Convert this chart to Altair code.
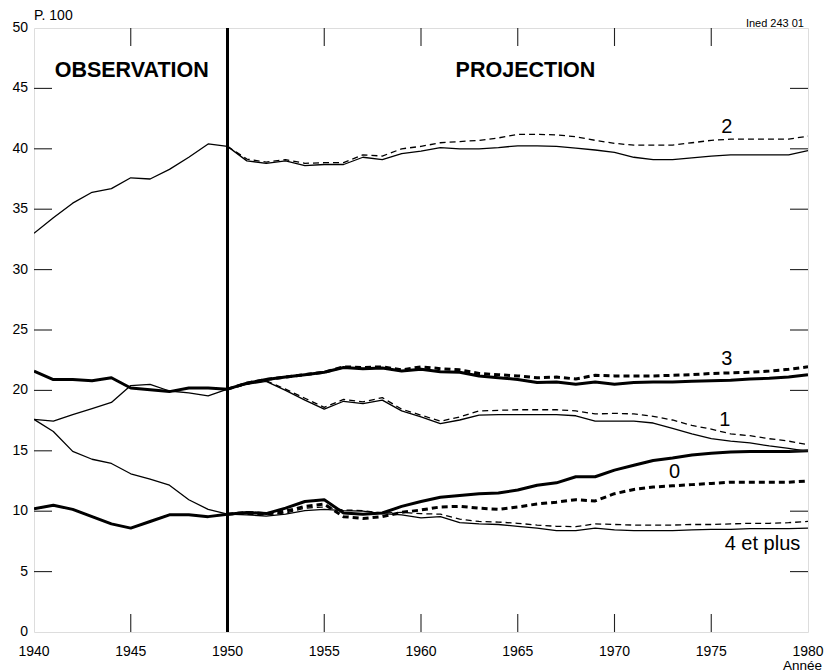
import altair as alt
import pandas as pd

# Years covered: observation 1940-1950, projection 1950-1980
YEARS = list(range(1940, 1981))
PROJ_YEARS = list(range(1950, 1981))

# Share of women by number of children (P. 100) - observed then projected (solid)
solid_2 = [33.0, 34.3, 35.5, 36.4, 36.7, 37.6, 37.5, 38.3, 39.3, 40.4, 40.2,
           39.0, 38.8, 39.0, 38.6, 38.7, 38.7, 39.3, 39.1, 39.6, 39.8,
           40.1, 40.0, 40.0, 40.1, 40.25, 40.25, 40.2, 40.05, 39.9, 39.7,
           39.3, 39.1, 39.1, 39.25, 39.4, 39.5, 39.5, 39.5, 39.5, 39.85]
solid_3 = [21.6, 20.9, 20.9, 20.8, 21.05, 20.2, 20.05, 19.9, 20.2, 20.2, 20.1,
           20.6, 20.9, 21.1, 21.3, 21.5, 21.9, 21.8, 21.85, 21.6, 21.75,
           21.55, 21.5, 21.2, 21.05, 20.9, 20.65, 20.7, 20.5, 20.7, 20.5,
           20.65, 20.7, 20.7, 20.75, 20.8, 20.85, 20.95, 21.0, 21.1, 21.3]
solid_1 = [17.6, 17.45, 18.0, 18.5, 19.0, 20.4, 20.5, 19.95, 19.8, 19.55, 20.1,
           20.5, 20.75, 20.0, 19.2, 18.45, 19.1, 18.9, 19.2, 18.3, 17.8,
           17.25, 17.55, 17.95, 18.0, 18.0, 18.0, 18.0, 17.9, 17.45, 17.45,
           17.45, 17.3, 16.85, 16.4, 16.0, 15.8, 15.65, 15.4, 15.2, 14.95]
solid_0 = [10.2, 10.5, 10.15, 9.55, 8.95, 8.6, 9.15, 9.7, 9.7, 9.55, 9.75,
           9.9, 9.8, 10.25, 10.8, 10.95, 9.85, 9.75, 9.85, 10.4, 10.8,
           11.15, 11.3, 11.45, 11.5, 11.75, 12.15, 12.35, 12.85, 12.85, 13.4,
           13.8, 14.2, 14.4, 14.65, 14.8, 14.9, 14.95, 14.95, 14.95, 15.0]
solid_4p = [17.6, 16.6, 14.95, 14.3, 13.95, 13.1, 12.65, 12.15, 10.95, 10.15, 9.75,
            9.7, 9.6, 9.75, 10.05, 10.15, 10.05, 10.0, 9.8, 9.7, 9.45,
            9.55, 9.05, 8.95, 8.9, 8.75, 8.6, 8.4, 8.4, 8.6, 8.45,
            8.4, 8.4, 8.4, 8.45, 8.5, 8.5, 8.55, 8.55, 8.55, 8.6]

# Alternative projection 1950-1980 (dashed)
dashed_2 = [40.2, 39.15, 38.9, 39.1, 38.8, 38.85, 38.85, 39.5, 39.4, 40.0, 40.2,
            40.5, 40.6, 40.7, 40.9, 41.2, 41.2, 41.15, 41.0, 40.7, 40.45,
            40.3, 40.3, 40.3, 40.5, 40.7, 40.8, 40.8, 40.8, 40.8, 41.05]
dashed_3 = [20.1, 20.6, 20.9, 21.1, 21.3, 21.5, 21.95, 21.9, 21.95, 21.7, 21.95,
            21.8, 21.7, 21.4, 21.3, 21.2, 21.05, 21.1, 20.95, 21.25, 21.2,
            21.2, 21.2, 21.25, 21.3, 21.4, 21.45, 21.5, 21.6, 21.75, 21.95]
dashed_1 = [20.1, 20.55, 20.8, 20.1, 19.35, 18.6, 19.25, 19.05, 19.4, 18.45, 17.95,
            17.45, 17.8, 18.3, 18.35, 18.4, 18.4, 18.4, 18.3, 18.05, 18.1,
            18.05, 17.85, 17.55, 17.1, 16.8, 16.4, 16.25, 16.0, 15.8, 15.5]
dashed_0 = [9.75, 9.9, 9.8, 10.0, 10.4, 10.6, 9.55, 9.4, 9.55, 9.9, 10.1,
            10.35, 10.4, 10.25, 10.15, 10.35, 10.6, 10.75, 10.95, 10.85, 11.45,
            11.8, 12.0, 12.1, 12.2, 12.3, 12.4, 12.4, 12.4, 12.4, 12.5]
dashed_4p = [9.75, 9.75, 9.7, 9.85, 10.25, 10.35, 10.1, 10.05, 9.85, 9.9, 9.8,
             9.75, 9.35, 9.15, 9.1, 9.0, 8.85, 8.75, 8.72, 8.95, 8.9,
             8.85, 8.85, 8.85, 8.9, 8.9, 8.95, 9.0, 9.0, 9.05, 9.15]

# Curve labels
label_text = ["2", "3", "1", "0", "4 et plus"]
label_year = [1975.8, 1975.8, 1975.7, 1973.1, 1979.6]
label_value = [41.3, 22.1, 17.05, 12.75, 6.8]

Y_TICKS = list(range(0, 51, 5))
X_TICKS = list(range(1940, 1981, 5))
X_MIN, X_MAX = 1940, 1980
Y_MIN, Y_MAX = 0, 50

FONT = "Liberation Sans"
W, H = 774, 604
TICK_PX = 18
# tick length expressed in data units of each scale
TICK_X = TICK_PX * (X_MAX - X_MIN) / W
TICK_Y = TICK_PX * (Y_MAX - Y_MIN) / H


def long_table(years, series):
    rows = []
    for name, vals in series:
        for yr, v in zip(years, vals):
            rows.append({"year": yr, "value": v, "series": name})
    return pd.DataFrame(rows)


thin_solid = long_table(YEARS, [("2", solid_2), ("1", solid_1), ("4+", solid_4p)])
thick_solid = long_table(YEARS, [("3", solid_3), ("0", solid_0)])
thin_dashed = long_table(PROJ_YEARS, [("2", dashed_2), ("1", dashed_1), ("4+", dashed_4p)])
thick_dashed = long_table(PROJ_YEARS, [("3", dashed_3), ("0", dashed_0)])

xscale = alt.Scale(domain=[X_MIN, X_MAX], nice=False, zero=False)
yscale = alt.Scale(domain=[Y_MIN, Y_MAX], nice=False)


def X(field=None, **kw):
    if field is None:
        return alt.X(scale=xscale, axis=None, **kw)
    return alt.X(field, scale=xscale, axis=None, **kw)


def Y(field=None, **kw):
    if field is None:
        return alt.Y(scale=yscale, axis=None, **kw)
    return alt.Y(field, scale=yscale, axis=None, **kw)


def lines(df, width, dash=None, color="#000"):
    props = dict(color=color, strokeWidth=width, strokeJoin="round", clip=True)
    if dash:
        props["strokeDash"] = dash
    return alt.Chart(df).mark_line(**props).encode(
        x=X("year:Q"), y=Y("value:Q"), detail="series:N")


# Inward tick marks on all four sides, each drawn as a two-point segment
tick_rows = []
for v in Y_TICKS[1:-1]:
    for side, (a, b) in (("L", (X_MIN, X_MIN + TICK_X)), ("R", (X_MAX - TICK_X, X_MAX))):
        tick_rows += [{"series": f"y{side}{v}", "year": a, "value": v},
                      {"series": f"y{side}{v}", "year": b, "value": v}]
for yr in X_TICKS[1:-1]:
    for side, (a, b) in (("B", (Y_MIN, Y_MIN + TICK_Y)), ("T", (Y_MAX - TICK_Y, Y_MAX))):
        tick_rows += [{"series": f"x{side}{yr}", "year": yr, "value": a},
                      {"series": f"x{side}{yr}", "year": yr, "value": b}]
tick_segments = lines(pd.DataFrame(tick_rows), 1.1, color="#222")

# Tick labels
y_labels = alt.Chart(pd.DataFrame({"v": Y_TICKS})).mark_text(
    font=FONT, fontSize=14, color="#000", align="right", baseline="middle", dx=-6).encode(
    x=X(datum=X_MIN), y=Y("v:Q"), text=alt.Text("v:Q", format="d"))
x_labels = alt.Chart(pd.DataFrame({"yr": X_TICKS})).mark_text(
    font=FONT, fontSize=14, color="#000", align="center", baseline="alphabetic", dy=24).encode(
    x=X("yr:Q"), y=Y(datum=Y_MIN), text=alt.Text("yr:Q", format="d"))

# Axis titles
y_title = alt.Chart(pd.DataFrame({"t": ["P. 100"]})).mark_text(
    font=FONT, fontSize=14, color="#000", align="left", baseline="alphabetic", dy=-8).encode(
    x=X(datum=X_MIN), y=Y(datum=Y_MAX), text="t:N")
x_title = alt.Chart(pd.DataFrame({"t": ["Année"]})).mark_text(
    font=FONT, fontSize=13.5, color="#000", align="right", baseline="alphabetic",
    dx=14, dy=38).encode(
    x=X(datum=X_MAX), y=Y(datum=Y_MIN), text="t:N")

# Boundary between observation and projection
divider = alt.Chart(pd.DataFrame({"yr": [1950]})).mark_rule(
    color="#000", strokeWidth=3).encode(
    x=X("yr:Q"), y=Y(datum=Y_MIN), y2=alt.Y2(datum=Y_MAX))

# Period headings
periods = pd.DataFrame({"text": ["OBSERVATION", "PROJECTION"],
                        "yr": [1945.05, 1965.4], "v": [45.95, 45.95]})
period_text = alt.Chart(periods).mark_text(
    font=FONT, fontSize=21.5, fontWeight="bold", color="#000",
    align="center", baseline="alphabetic").encode(
    x=X("yr:Q"), y=Y("v:Q"), text="text:N")

labels = pd.DataFrame({"text": label_text, "yr": label_year, "v": label_value,
                       "align": ["center", "center", "center", "center", "right"]})


def curve_labels(align):
    return alt.Chart(labels[labels["align"] == align]).mark_text(
        font=FONT, fontSize=20, color="#000", align=align, baseline="alphabetic").encode(
        x=X("yr:Q"), y=Y("v:Q"), text="text:N")


# Source reference in the top-right corner
source = alt.Chart(pd.DataFrame({"t": ["Ined 243 01"]})).mark_text(
    font=FONT, fontSize=11, color="#000", align="right", baseline="alphabetic",
    dx=-4, dy=-1).encode(
    x=X(datum=X_MAX), y=Y(datum=Y_MAX), text="t:N")

chart = alt.layer(
    lines(thin_solid, 1.3),
    lines(thick_solid, 3),
    lines(thin_dashed, 1.3, [6, 4]),
    lines(thick_dashed, 3, [6, 4]),
    tick_segments,
    y_labels, x_labels, y_title, x_title,
    divider, period_text, curve_labels("center"), curve_labels("right"), source,
).properties(
    width=W, height=H,
    autosize=alt.AutoSizeParams(type="none"),
    padding={"left": 34, "top": 28, "right": 18, "bottom": 40},
).configure_view(
    stroke="#222", strokeWidth=1.2
).configure(background="white")

chart.save("out.html", embed_options={"renderer": "svg", "actions": False})
